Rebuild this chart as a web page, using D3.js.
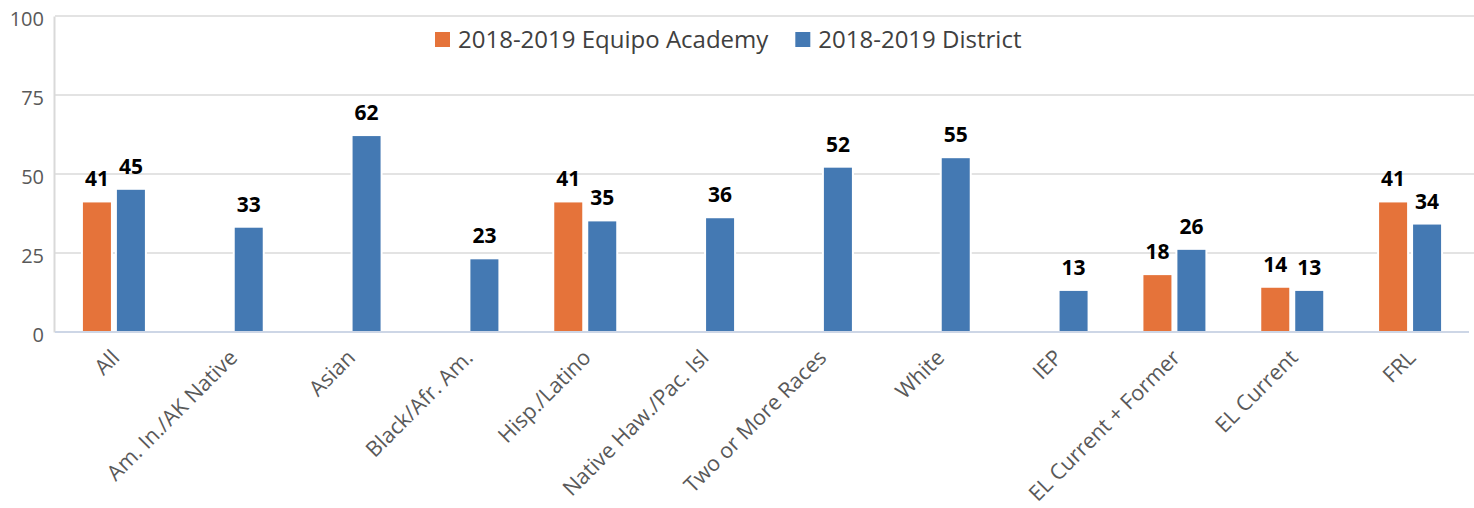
<!DOCTYPE html>
<html>
<head>
<meta charset="utf-8">
<script src="https://cdn.jsdelivr.net/npm/d3@7"></script>
<style>
  body { margin: 0; background: #fff; }
  svg { display: block; font-family: "Open Sans", sans-serif; }
</style>
</head>
<body>
<div id="chart"></div>
<script>
const categories = ["All", "Am. In./AK Native", "Asian", "Black/Afr. Am.", "Hisp./Latino",
  "Native Haw./Pac. Isl", "Two or More Races", "White", "IEP", "EL Current + Former",
  "EL Current", "FRL"];
const seriesNames = ["2018-2019 Equipo Academy", "2018-2019 District"];
const academy = [41, null, null, null, 41, null, null, null, null, 18, 14, 41];
const district = [45, 33, 62, 23, 35, 36, 52, 55, 13, 26, 13, 34];
const yTicks = [0, 25, 50, 75, 100];

function createChart() {
  const colors = ["#E5733A", "#4479B3"];
  const width = 1474, height = 508;
  const left = 55, right = 1469, top = 16, bottom = 332;

  const svg = d3.select("#chart").append("svg")
    .attr("width", width)
    .attr("height", height);

  const x = d3.scaleBand()
    .domain(categories)
    .range([left, right])
    .paddingInner(0.474)
    .paddingOuter(0.237);

  const x1 = d3.scaleBand()
    .domain(seriesNames)
    .range([0, x.bandwidth()])
    .paddingInner(0.176);

  const y = d3.scaleLinear().domain([0, 100]).range([bottom, top]);

  // gridlines
  svg.append("g")
    .selectAll("line")
    .data(yTicks.filter(d => d > 0))
    .join("line")
    .attr("x1", left)
    .attr("x2", width)
    .attr("y1", d => y(d))
    .attr("y2", d => y(d))
    .attr("stroke", "#e3e3e3")
    .attr("stroke-width", 2);

  // y axis
  const yAxis = svg.append("g")
    .attr("transform", `translate(${left - 1},0)`)
    .call(d3.axisLeft(y).tickValues(yTicks).tickSize(0).tickPadding(10));
  yAxis.select(".domain").attr("stroke", "#d9d9d9").attr("stroke-width", 2);
  yAxis.selectAll("text")
    .attr("font-size", 20)
    .attr("font-family", "Open Sans")
    .attr("fill", "#595959")
    .attr("dy", "0.45em");

  const rows = categories.map((c, i) => ({ cat: c, values: [academy[i], district[i]] }));

  const groups = svg.append("g")
    .selectAll("g")
    .data(rows)
    .join("g")
    .attr("transform", d => `translate(${x(d.cat)},0)`);

  const bars = groups.selectAll("g")
    .data(d => d.values.map((v, j) => ({ series: seriesNames[j], j, v })).filter(d => d.v != null))
    .join("g");

  // white halo to cut gridlines around bars
  bars.append("rect")
    .attr("x", d => x1(d.series) - 2)
    .attr("y", d => y(d.v) - 2)
    .attr("width", x1.bandwidth() + 4)
    .attr("height", d => y(0) - y(d.v) + 2)
    .attr("fill", "#fff");

  bars.append("rect")
    .attr("x", d => x1(d.series))
    .attr("y", d => y(d.v))
    .attr("width", x1.bandwidth())
    .attr("height", d => y(0) - y(d.v))
    .attr("fill", d => colors[d.j]);

  bars.append("text")
    .attr("x", d => x1(d.series) + x1.bandwidth() / 2)
    .attr("y", d => y(d.v) - 16)
    .attr("text-anchor", "middle")
    .attr("font-size", 21)
    .attr("font-weight", "bold")
    .attr("fill", "#000")
    .text(d => d.v);

  // x axis
  svg.append("line")
    .attr("x1", left)
    .attr("x2", right)
    .attr("y1", bottom)
    .attr("y2", bottom)
    .attr("stroke", "#cdd6e6")
    .attr("stroke-width", 2);

  svg.append("g")
    .selectAll("text")
    .data(categories)
    .join("text")
    .attr("transform", d => `translate(${x(d) + x.bandwidth() / 2 - 4},348) rotate(-45)`)
    .attr("text-anchor", "end")
    .attr("dy", "0.72em")
    .attr("font-size", 21.5)
    .attr("fill", "#595959")
    .text(d => d);

  // legend
  const legend = svg.append("g").attr("transform", "translate(435,0)");
  let lx = 0;
  seriesNames.forEach((name, i) => {
    legend.append("rect")
      .attr("x", lx)
      .attr("y", 32)
      .attr("width", 15)
      .attr("height", 15)
      .attr("fill", colors[i]);
    const t = legend.append("text")
      .attr("x", lx + 23)
      .attr("y", 48)
      .attr("font-size", 24)
      .attr("fill", "#404040")
      .text(name);
    lx += 23 + t.node().getComputedTextLength() + 27;
  });
}

document.addEventListener("DOMContentLoaded", createChart);
</script>
</body>
</html>
